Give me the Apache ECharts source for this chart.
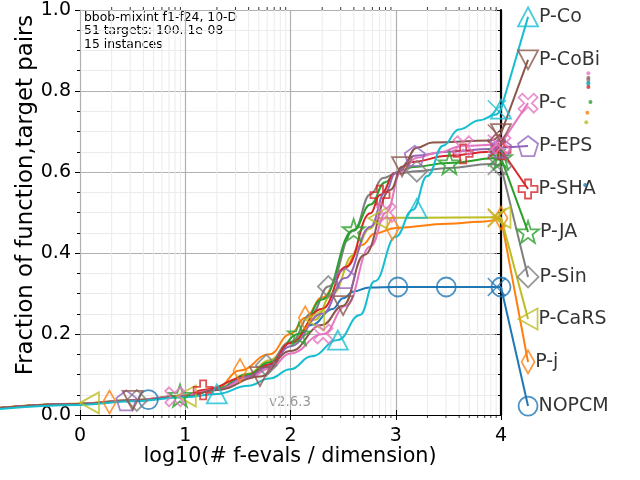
<!DOCTYPE html>
<html>
<head>
<meta charset="utf-8">
<script src="https://cdn.jsdelivr.net/npm/echarts@6/dist/echarts.min.js"></script>
<style>html,body{margin:0;padding:0;background:#fff}#graph{width:640px;height:480px}</style>
</head>
<body>
<div id="graph"></div>
<script>
const chartDom = document.getElementById('graph')
const myChart = echarts.init(chartDom)

// algorithm names and colours (bottom to top in the legend)
const names = ['NOPCM', 'P-j', 'P-CaRS', 'P-Sin', 'P-JA', 'P-SHA', 'P-EPS', 'P-c', 'P-CoBi', 'P-Co']
const colors = ['#1f77b4', '#ff7f0e', '#bcbd22', '#7f7f7f', '#2ca02c', '#d62728', '#9467bd', '#e377c2', '#8c564b', '#17becf']

// ECDF curves, [log10(evals/dim), fraction]
const nopcm = [[-0.76,0.017],[0,0.027],[0.5,0.035],[1,0.046],[1.3,0.062],[1.6,0.095],[1.8,0.125],[2.0,0.18],[2.2,0.222],[2.4,0.262],[2.5,0.288],[2.6,0.305],[2.75,0.315],[3.0,0.316],[4.0,0.316]]
const pj = [[-0.76,0.018],[0,0.028],[0.5,0.037],[1,0.048],[1.3,0.067],[1.52,0.11],[1.8,0.15],[2.0,0.2],[2.14,0.24],[2.3,0.29],[2.5,0.36],[2.68,0.42],[2.8,0.448],[3.0,0.462],[3.5,0.472],[3.8,0.477],[4.0,0.486]]
const pcars = [[-0.76,0.018],[0,0.028],[0.5,0.037],[1,0.047],[1.3,0.065],[1.6,0.102],[1.8,0.135],[2.0,0.18],[2.23,0.235],[2.4,0.3],[2.6,0.395],[2.75,0.46],[2.85,0.486],[3.0,0.487],[4.0,0.488]]
const psin = [[-0.76,0.017],[0,0.027],[0.5,0.036],[1,0.047],[1.3,0.064],[1.6,0.1],[1.77,0.123],[2.0,0.18],[2.2,0.25],[2.36,0.317],[2.6,0.455],[2.76,0.545],[2.88,0.585],[3.0,0.596],[3.2,0.602],[3.5,0.61],[3.9,0.62],[4.0,0.615]]
const pja = [[-0.76,0.017],[0,0.027],[0.5,0.036],[1,0.048],[1.3,0.065],[1.6,0.1],[1.8,0.13],[2.08,0.2],[2.3,0.285],[2.6,0.457],[2.76,0.52],[2.9,0.575],[3.0,0.598],[3.15,0.612],[3.5,0.622],[3.95,0.634],[4.0,0.635]]
const psha = [[-0.76,0.017],[0,0.027],[0.5,0.036],[1,0.047],[1.17,0.062],[1.6,0.095],[1.8,0.125],[2.0,0.178],[2.3,0.262],[2.53,0.366],[2.76,0.498],[2.85,0.543],[3.0,0.598],[3.15,0.625],[3.5,0.64],[3.9,0.65],[4.0,0.655]]
const peps = [[-0.76,0.017],[0,0.027],[0.44,0.036],[1,0.046],[1.3,0.063],[1.6,0.095],[1.8,0.12],[2.0,0.17],[2.3,0.25],[2.52,0.338],[2.76,0.465],[2.9,0.55],[3.0,0.598],[3.18,0.64],[3.5,0.65],[3.9,0.657],[4.0,0.66]]
const pc = [[-0.76,0.017],[0,0.027],[0.5,0.036],[0.9,0.045],[1.3,0.062],[1.6,0.09],[1.8,0.115],[2.0,0.152],[2.31,0.2],[2.53,0.27],[2.76,0.416],[2.91,0.5],[3.05,0.6],[3.2,0.635],[3.4,0.648],[3.64,0.665],[4.0,0.67]]
const pcobi = [[-0.76,0.017],[0,0.027],[0.5,0.036],[1,0.046],[1.3,0.062],[1.71,0.095],[2.0,0.158],[2.3,0.222],[2.5,0.27],[2.7,0.395],[2.95,0.556],[3.06,0.613],[3.2,0.66],[3.35,0.673],[3.9,0.678],[4.0,0.695]]
const pco = [[-0.76,0.015],[0,0.025],[0.5,0.034],[1,0.044],[1.3,0.052],[1.6,0.072],[1.8,0.09],[2.0,0.113],[2.2,0.145],[2.45,0.185],[2.66,0.247],[2.8,0.33],[3.0,0.44],[3.16,0.506],[3.3,0.59],[3.45,0.665],[3.6,0.705],[3.8,0.728],[3.95,0.742],[4.0,0.755]]
const curves = [nopcm, pj, pcars, psin, pja, psha, peps, pc, pcobi, pco]

// marker positions along each curve
const nopcmMk = [[0.65,0.038],[3.02,0.316],[3.48,0.316],[4.0,0.316]]
const pjMk = [[0.28,0.032],[1.52,0.11],[2.14,0.24],[2.97,0.461],[4.0,0.486]]
const pcarsMk = [[0.09,0.03],[1.01,0.047],[2.23,0.235],[2.83,0.486],[4.0,0.488]]
const psinMk = [[0.54,0.036],[1.77,0.123],[2.36,0.317],[3.2,0.602],[4.0,0.615]]
const pjaMk = [[0.95,0.048],[2.08,0.2],[2.6,0.457],[3.51,0.622],[4.0,0.635]]
const pshaMk = [[1.17,0.062],[2.85,0.543],[3.64,0.645],[4.0,0.655]]
const pepsMk = [[0.44,0.036],[2.52,0.338],[3.18,0.64],[4.0,0.66]]
const pcMk = [[0.9,0.045],[2.31,0.2],[2.91,0.5],[3.64,0.665],[4.0,0.67]]
const pcobiMk = [[0.5,0.036],[1.71,0.095],[2.5,0.27],[3.06,0.613],[4.0,0.695]]
const pcoMk = [[1.3,0.052],[2.45,0.185],[3.2,0.51],[4.0,0.755]]
const markers = [nopcmMk, pjMk, pcarsMk, psinMk, pjaMk, pshaMk, pepsMk, pcMk, pcobiMk, pcoMk]

// legend entries to the right of the axes
const legendX = 4.257
const legendY = [0.022, 0.131, 0.237, 0.341, 0.452, 0.558, 0.664, 0.770, 0.877, 0.983]

// little rank dots
const dotX = [4.83, 4.83, 4.83, 4.83, 4.83, 4.83, 4.85, 4.82, 4.81, 4.8]
const dotY = [0.844, 0.832, 0.827, 0.82, 0.817, 0.81, 0.773, 0.746, 0.723, 0.568]
const dotIdx = [7, 8, 3, 0, 9, 5, 4, 1, 2, 0]

// minor log ticks on x
const decades = [0, 1, 2, 3]
const minorMult = [2, 3, 4, 5, 6, 7, 8, 9]

const font = '"DejaVu Sans", sans-serif'

const symbols = [
    'circle',
    'path://M5,0 L10,8 L5,16 L0,8 Z',
    'path://M10,0 L10,10 L0,5 Z',
    'path://M5,0 L10,5 L5,10 L0,5 Z',
    'path://M5,0 L6.2,3.6 L10,3.6 L7,5.9 L8.1,9.5 L5,7.3 L1.9,9.5 L3,5.9 L0,3.6 L3.8,3.6 Z',
    'path://M3.4,0 L6.6,0 L6.6,3.4 L10,3.4 L10,6.6 L6.6,6.6 L6.6,10 L3.4,10 L3.4,6.6 L0,6.6 L0,3.4 L3.4,3.4 Z',
    'path://M5,0 L10,3.6 L8.1,9.5 L1.9,9.5 L0,3.6 Z',
    'path://M2,0 L5,3 L8,0 L10,2 L7,5 L10,8 L8,10 L5,7 L2,10 L0,8 L3,5 L0,2 Z',
    'path://M0,0 L10,0 L5,10 Z',
    'triangle'
]
const symSizes = [19, [13, 23], [19, 21], 21, 22, 19, 20, 19, [20, 19], [20, 19]]

const minorX = []
decades.forEach(function (d) {
    minorMult.forEach(function (m) { minorX.push([d + Math.log10(m)]) })
})

const series = [{
    type: 'custom',
    silent: true,
    z: 1,
    data: minorX,
    renderItem: function (params, api) {
        const x = api.value(0)
        const bot = api.coord([x, 0])
        const top = api.coord([x, 1])
        return {
            type: 'group',
            children: [
                { type: 'line', shape: { x1: bot[0], y1: bot[1], x2: top[0], y2: top[1] }, style: { stroke: '#ebebeb', lineWidth: 1 } },
                { type: 'line', shape: { x1: bot[0], y1: bot[1], x2: bot[0], y2: bot[1] + 3 }, style: { stroke: '#000', lineWidth: 0.8 } },
                { type: 'line', shape: { x1: top[0], y1: top[1], x2: top[0], y2: top[1] - 3 }, style: { stroke: '#000', lineWidth: 0.8 } }
            ]
        }
    }
}]

// data marks go on a full-width hidden grid so they can run past the axes
const onWide = { xAxisIndex: 2, yAxisIndex: 2, silent: true }

names.forEach(function (name, i) {
    const c = colors[i]
    const data = curves[i]
    const last = data[data.length - 1]
    series.push(Object.assign({
        type: 'line', name: name, data: data, smooth: 0.45, smoothMonotone: 'x',
        showSymbol: false, z: 2, lineStyle: { color: c, width: 2 }
    }, onWide))
    series.push(Object.assign({
        type: 'line', data: [last, [legendX, legendY[i]]], showSymbol: false,
        z: 2, lineStyle: { color: c, width: 2 }
    }, onWide))
    series.push(Object.assign({
        type: 'scatter', data: markers[i], symbol: symbols[i], symbolSize: symSizes[i], z: 3,
        itemStyle: { color: 'rgba(0,0,0,0)', borderColor: c, borderWidth: 1.8 }
    }, onWide))
    series.push(Object.assign({
        type: 'scatter', data: [[last[0] - 0.04, last[1]]],
        symbol: 'path://M0,0 L10,10 M10,0 L0,10', symbolSize: 18, z: 3,
        itemStyle: { color: 'rgba(0,0,0,0)', borderColor: c, borderWidth: 1.5 }
    }, onWide))
    series.push(Object.assign({
        type: 'scatter', data: [[legendX, legendY[i]]], symbol: symbols[i], symbolSize: symSizes[i], z: 3,
        itemStyle: { color: 'rgba(0,0,0,0)', borderColor: c, borderWidth: 1.8 },
        label: { show: true, position: 'right', distance: 0, formatter: name, color: '#000', fontSize: 19, fontFamily: font }
    }, onWide))
})

series.push(Object.assign({
    type: 'scatter', z: 4, symbolSize: 4,
    data: dotX.map(function (x, k) {
        return { value: [x, dotY[k]], itemStyle: { color: colors[dotIdx[k]] } }
    })
}, onWide))

const pxPerUnit = 421 / 4
const wideMin = -80 / pxPerUnit
const wideMax = wideMin + 640 / pxPerUnit

const option = {
    animation: false,
    backgroundColor: '#fff',
    grid: [
        { left: 80, right: 139, top: 10, bottom: 65 },
        { left: 0, right: 0, top: 10, bottom: 65 }
    ],
    xAxis: [{
        type: 'value', gridIndex: 0, min: 0, max: 4, interval: 1, position: 'bottom',
        axisLine: { show: true, onZero: false, lineStyle: { color: '#000', width: 1 } },
        axisTick: { show: true, length: 5, lineStyle: { color: '#000' } },
        axisLabel: { fontSize: 19, color: '#000', margin: 12, fontFamily: font },
        splitLine: { show: true, lineStyle: { color: '#b0b0b0', width: 1.2 } }
    }, {
        type: 'value', gridIndex: 0, min: 0, max: 4, interval: 1, position: 'top',
        axisLine: { show: false },
        axisTick: { show: true, length: 5, lineStyle: { color: '#000' } },
        axisLabel: { show: false },
        splitLine: { show: false }
    }, {
        type: 'value', gridIndex: 1, min: wideMin, max: wideMax, show: false
    }],
    yAxis: [{
        type: 'value', gridIndex: 0, min: 0, max: 1, interval: 0.2, position: 'left',
        axisLine: { show: true, onZero: false, lineStyle: { color: '#b0b0b0', width: 1 } },
        axisTick: { show: true, length: 5, lineStyle: { color: '#000' } },
        minorTick: { show: true, splitNumber: 4, length: 3, lineStyle: { color: '#000' } },
        axisLabel: { fontSize: 19, color: '#000', margin: 9, fontFamily: font, formatter: function (v) { return v.toFixed(1) } },
        splitLine: { show: true, lineStyle: { color: '#b0b0b0', width: 1.2 } },
        minorSplitLine: { show: true, lineStyle: { color: '#ebebeb', width: 1 } }
    }, {
        type: 'value', gridIndex: 0, min: 0, max: 1, interval: 0.2, position: 'right',
        axisLine: { show: true, onZero: false, lineStyle: { color: '#000', width: 2.2 } },
        axisTick: { show: true, inside: true, length: 6, lineStyle: { color: '#000' } },
        minorTick: { show: true, splitNumber: 4, length: 3, lineStyle: { color: '#000' } },
        axisLabel: { show: false },
        splitLine: { show: false }
    }, {
        type: 'value', gridIndex: 1, min: 0, max: 1, show: false
    }],
    graphic: [{
        type: 'text', left: 84, top: 11, silent: true,
        style: { text: 'bbob-mixint f1-f24, 10-D\n51 targets: 100..1e-08\n15 instances', font: '12.4px ' + font, lineHeight: 13.5, fill: '#000' }
    }, {
        type: 'text', x: 290, y: 403, silent: true,
        style: { text: 'v2.6.3', font: '13.4px ' + font, fill: '#999', align: 'center', verticalAlign: 'middle' }
    }, {
        type: 'text', x: 290, y: 457, silent: true,
        style: { text: 'log10(# f-evals / dimension)', font: '20.7px ' + font, fill: '#000', align: 'center', verticalAlign: 'middle' }
    }, {
        type: 'text', x: 26, y: 195, rotation: Math.PI / 2, silent: true,
        style: { text: 'Fraction of function,target pairs', font: '22.8px ' + font, fill: '#000', align: 'center', verticalAlign: 'middle' }
    }],
    series: series
}

option && myChart.setOption(option)
</script>
</body>
</html>
